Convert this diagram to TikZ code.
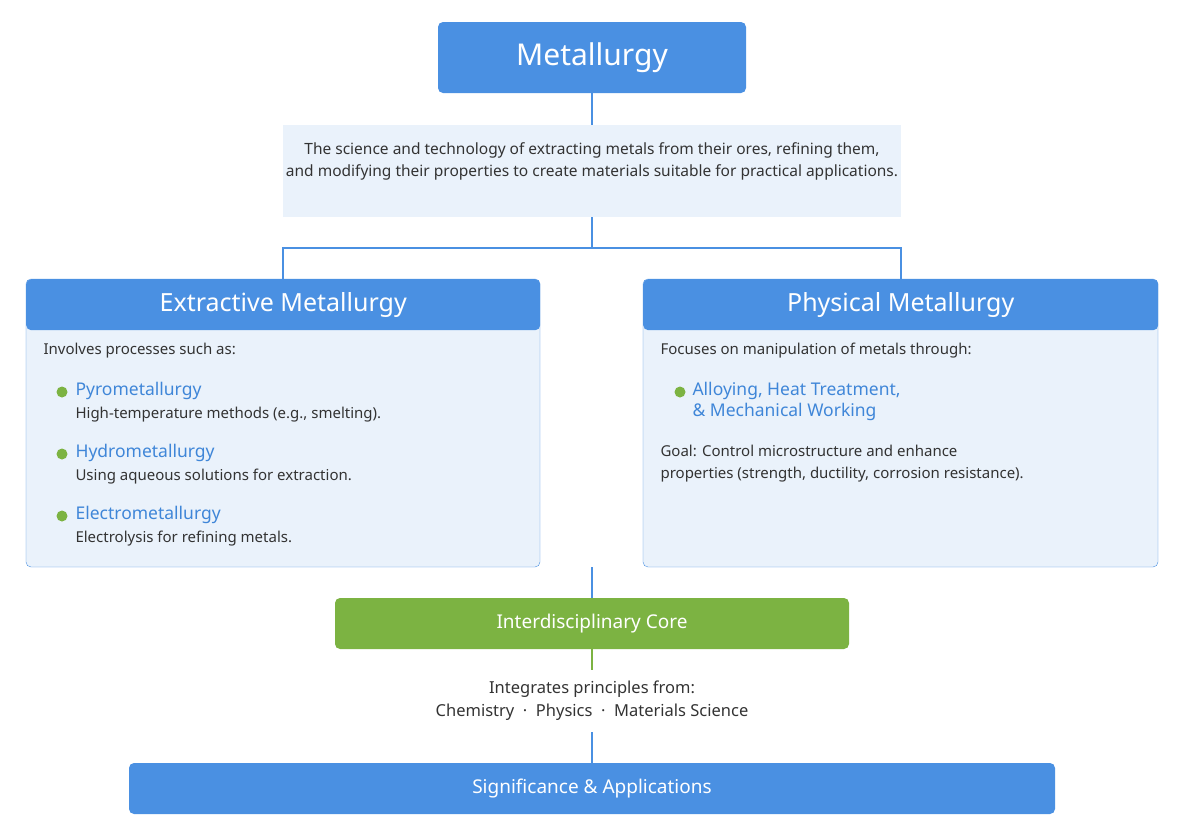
\documentclass[tikz,border=0pt]{standalone}
\usepackage{fontspec}
\setmainfont{Noto Sans}
\definecolor{mblue}{HTML}{4A90E2}
\definecolor{lblue}{HTML}{EAF2FB}
\definecolor{tblue}{HTML}{3F86D8}
\definecolor{mgreen}{HTML}{7CB342}
\definecolor{dgray}{HTML}{333333}
\begin{document}
\begin{tikzpicture}[x=1pt,y=-1pt,
  hdr/.style={fill=mblue,rounded corners=5pt,text=white,font=\bfseries},
  conn/.style={draw=mblue,line width=1.5pt},
  body/.style={font=\fontsize{15}{18}\selectfont,text=dgray,anchor=west},
  ttl/.style={font=\fontsize{17.5}{21}\selectfont\bfseries,text=tblue,anchor=west},
  dot/.style={circle,fill=mgreen,inner sep=0pt,minimum size=11pt}]
\useasboundingbox (0,0) rectangle (1200,836);
% top
\node[hdr,minimum width=308pt,minimum height=71pt,font=\fontsize{30}{34}\selectfont\bfseries] (top) at (592,57.5) {Metallurgy};
\fill[lblue] (283,125) rectangle (901,217);
\node[font=\fontsize{15.5}{22}\selectfont,text=dgray,align=center] (desc) at (592,161) {The science and technology of extracting metals from their ores, refining them,\\and modifying their properties to create materials suitable for practical applications.};
\coordinate (dtop) at (592,125);
\coordinate (dbot) at (592,217);
\draw[conn] (top.south) -- (dtop);
\coordinate (lt) at (283,279); \coordinate (rt) at (901,279);
\draw[conn] (dbot) -- (592,248) (lt) -- (283,248) -- (901,248) -- (rt);
% left panel
\draw[mblue,fill=lblue,rounded corners=5pt] (26,279) rectangle (540,567);
\node[hdr,minimum width=514pt,minimum height=51pt,font=\fontsize{25}{30}\selectfont\bfseries,anchor=north west] (ext) at (26,279) {Extractive Metallurgy};
\node[body] at (40,351) {Involves processes such as:};
\foreach \y/\t/\d in {391/Pyrometallurgy/{High-temperature methods (e.g., smelting).},453/Hydrometallurgy/{Using aqueous solutions for extraction.},515/Electrometallurgy/{Electrolysis for refining metals.}}{
  \node[dot] at (62,\y+1) {};
  \node[ttl] at (72,\y) {\t};
  \node[body] at (72,\y+24) {\d};
}
% right panel
\draw[mblue,fill=lblue,rounded corners=5pt] (643,279) rectangle (1158,567);
\node[hdr,minimum width=515pt,minimum height=51pt,font=\fontsize{25}{30}\selectfont\bfseries,anchor=north west] (phy) at (643,279) {Physical Metallurgy};
\node[body] at (657,351) {Focuses on manipulation of metals through:};
\node[dot] at (680,392) {};
\node[ttl,align=left,anchor=north west] at (689,379) {Alloying, Heat Treatment,\\\& Mechanical Working};
\node[body,align=left,anchor=north west,font=\fontsize{15}{22}\selectfont] at (657,442) {\textbf{Goal:} Control microstructure and enhance\\properties (strength, ductility, corrosion resistance).};
% core
\node[fill=mgreen,rounded corners=5pt,text=white,font=\fontsize{19}{23}\selectfont\bfseries,minimum width=514pt,minimum height=51pt] (core) at (592,623.5) {Interdisciplinary Core};
\coordinate (pb) at (592,567);
\draw[conn] (pb) -- (core.north);
\node[align=center,text=dgray,font=\fontsize{16.5}{23}\selectfont] (integ) at (592,701) {Integrates principles from:\\\textbf{Chemistry\ \ ·\ \ Physics\ \ ·\ \ Materials Science}};
\coordinate (ct) at (592,670);
\draw[mgreen,line width=1.5pt] (core.south) -- (ct);
\node[hdr,minimum width=926pt,minimum height=51pt,font=\fontsize{19}{23}\selectfont\bfseries] (sig) at (592,788.5) {Significance \& Applications};
\coordinate (it) at (592,732);
\draw[conn] (it) -- (sig.north);
\end{tikzpicture}
\end{document}
